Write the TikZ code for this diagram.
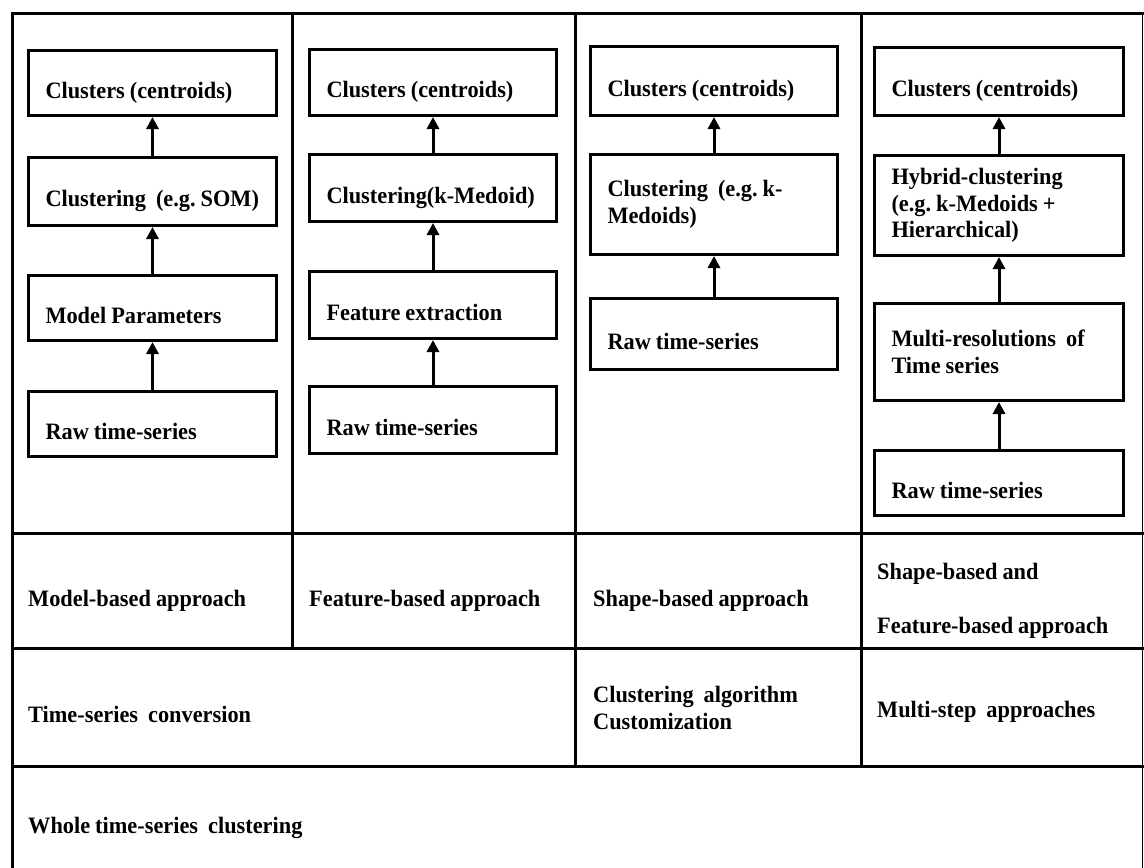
\documentclass[tikz,border=0pt]{standalone}
\usepackage{fontspec}
\setmainfont{Liberation Serif}[FakeStretch=0.95,WordSpace=0.9]
\usetikzlibrary{arrows.meta}
\frenchspacing
\newcommand\boxfont{\bfseries\fontsize{23.5}{26.5}\selectfont}
\begin{document}
\begin{tikzpicture}[x=1pt,y=-1pt,
  grid/.style={line width=3pt, line join=miter, line cap=rect},
  bx/.style={draw, line width=3pt, anchor=north west, inner xsep=17pt, inner ysep=0pt, align=left, font=\boxfont, execute at begin node={\noindent\spaceskip=0pt\xspaceskip=0pt\relax}},
  one/.style={text height=32pt, text depth=2pt},
  arr/.style={line width=3pt, -{Triangle[width=12pt,length=12pt]}},
  lbl/.style={anchor=base west, inner sep=0pt, font=\boxfont, align=left}]
\useasboundingbox (0,0) rectangle (1144,868);

% table frame
\draw[grid] (12,868) -- (12,13) -- (1142,13);
\draw[grid] (292,13) -- (292,648);
\draw[grid] (575,13) -- (575,766);
\draw[grid] (861,13) -- (861,766);
\draw[grid] (12,533) -- (1142,533);
\draw[grid] (12,648) -- (1142,648);
\draw[grid] (12,766) -- (1142,766);
\draw[line width=1.5pt] (1142.5,13) -- (1142.5,868);

% column 1
\node[bx,one,minimum width=248pt,minimum height=65pt,text width=214pt] (a1) at (27,49) {Clusters (centroids)};
\node[bx,one,minimum width=248pt,minimum height=68pt,text width=214pt] (a2) at (27,156) {\mbox{Clustering\ \ (e.g. SOM)}};
\node[bx,one,minimum width=248pt,minimum height=65pt,text width=214pt] (a3) at (27,274) {Model Parameters};
\node[bx,one,minimum width=248pt,minimum height=65pt,text width=214pt] (a4) at (27,390) {Raw time-series};
\draw[arr] (a2.north) -- (a1.south);
\draw[arr] (a3.north) -- (a2.south);
\draw[arr] (a4.north) -- (a3.south);

% column 2
\node[bx,one,minimum width=247pt,minimum height=66pt,text width=213pt] (b1) at (308,48) {Clusters (centroids)};
\node[bx,one,minimum width=247pt,minimum height=67pt,text width=213pt] (b2) at (308,153) {\mbox{Clustering(k-Medoid)}};
\node[bx,one,minimum width=247pt,minimum height=67pt,text width=213pt] (b3) at (308,270) {Feature extraction};
\node[bx,one,minimum width=247pt,minimum height=67pt,text width=213pt] (b4) at (308,385) {Raw time-series};
\draw[arr] (b2.north) -- (b1.south);
\draw[arr] (b3.north) -- (b2.south);
\draw[arr] (b4.north) -- (b3.south);

% column 3
\node[bx,one,minimum width=247pt,minimum height=69pt,text width=213pt] (c1) at (589,45) {Clusters (centroids)};
\node[bx,minimum width=247pt,minimum height=100pt,text width=213pt] (c2) at (589,153) {\mbox{Clustering\ \ (e.g. k-}\\Medoids)};
\node[bx,one,minimum width=247pt,minimum height=71pt,text width=213pt] (c3) at (589,297) {Raw time-series};
\draw[arr] (c2.north) -- (c1.south);
\draw[arr] (c3.north) -- (c2.south);

% column 4
\node[bx,one,minimum width=249pt,minimum height=68pt,text width=215pt] (d1) at (873,46) {Clusters (centroids)};
\node[bx,minimum width=249pt,minimum height=100pt,text width=215pt] (d2) at (873,154) {Hybrid-clustering\\(e.g. k-Medoids +\\Hierarchical)};
\node[bx,minimum width=249pt,minimum height=97pt,text width=215pt] (d3) at (873,302) {\mbox{Multi-resolutions\ \ of}\\Time series};
\node[bx,one,minimum width=249pt,minimum height=65pt,text width=215pt] (d4) at (873,449) {Raw time-series};
\draw[arr] (d2.north) -- (d1.south);
\draw[arr] (d3.north) -- (d2.south);
\draw[arr] (d4.north) -- (d3.south);

% row labels
\node[lbl] (r1) at (28,606) {Model-based approach};
\node[lbl] (r2) at (309,606) {Feature-based approach};
\node[lbl] (r3) at (593,606) {Shape-based approach};
\node[lbl] (r4) at (877,633) {Shape-based and\\[27pt]Feature-based approach};
\node[lbl] (s1) at (28,722) {Time-series\ \ conversion};
\node[lbl] (s2) at (593,729) {Clustering\ \ algorithm\\Customization};
\node[lbl] (s3) at (877,717) {Multi-step\ \ approaches};
\node[lbl] (w1) at (28,833) {Whole time-series\ \ clustering};
\end{tikzpicture}
\end{document}
